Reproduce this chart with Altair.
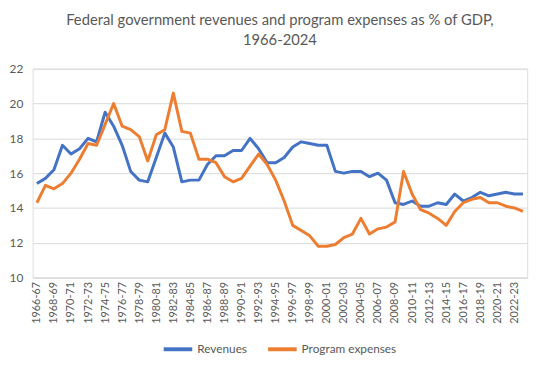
import altair as alt
import pandas as pd

years = ["1966-67", "1967-68", "1968-69", "1969-70", "1970-71", "1971-72", "1972-73", "1973-74",
         "1974-75", "1975-76", "1976-77", "1977-78", "1978-79", "1979-80", "1980-81", "1981-82",
         "1982-83", "1983-84", "1984-85", "1985-86", "1986-87", "1987-88", "1988-89", "1989-90",
         "1990-91", "1991-92", "1992-93", "1993-94", "1994-95", "1995-96", "1996-97", "1997-98",
         "1998-99", "1999-00", "2000-01", "2001-02", "2002-03", "2003-04", "2004-05", "2005-06",
         "2006-07", "2007-08", "2008-09", "2009-10", "2010-11", "2011-12", "2012-13", "2013-14",
         "2014-15", "2015-16", "2016-17", "2017-18", "2018-19", "2019-20", "2020-21", "2021-22",
         "2022-23", "2023-24"]

revenues = [15.4, 15.7, 16.2, 17.6, 17.1, 17.4, 18.0, 17.8,
            19.5, 18.7, 17.6, 16.1, 15.6, 15.5, 16.9, 18.3,
            17.5, 15.5, 15.6, 15.6, 16.5, 17.0, 17.0, 17.3,
            17.3, 18.0, 17.4, 16.6, 16.6, 16.9, 17.5, 17.8,
            17.7, 17.6, 17.6, 16.1, 16.0, 16.1, 16.1, 15.8,
            16.0, 15.6, 14.3, 14.2, 14.4, 14.1, 14.1, 14.3,
            14.2, 14.8, 14.4, 14.6, 14.9, 14.7, 14.8, 14.9,
            14.8, 14.8]

program_expenses = [14.3, 15.3, 15.1, 15.4, 16.0, 16.8, 17.7, 17.6,
                    18.8, 20.0, 18.7, 18.5, 18.1, 16.7, 18.2, 18.5,
                    20.6, 18.4, 18.3, 16.8, 16.8, 16.6, 15.8, 15.5,
                    15.7, 16.4, 17.1, 16.5, 15.6, 14.4, 13.0, 12.7,
                    12.4, 11.8, 11.8, 11.9, 12.3, 12.5, 13.4, 12.5,
                    12.8, 12.9, 13.2, 16.1, 14.8, 13.9, 13.7, 13.4,
                    13.0, 13.8, 14.3, 14.5, 14.6, 14.3, 14.3, 14.1,
                    14.0, 13.8]

series_names = ["Revenues", "Program expenses"]
series_colors = ["#4472C4", "#ED7D31"]
y_ticks = [10, 12, 14, 16, 18, 20, 22]
title_lines = ["Federal government revenues and program expenses as % of GDP,", "1966-2024"]

rows = []
for name, vals in zip(series_names, [revenues, program_expenses]):
    for i, (yr, v) in enumerate(zip(years, vals)):
        rows.append({"year": yr, "value": v, "series": name, "order": i})
df = pd.DataFrame(rows)

FONT = "Lato"
GREY = "#595959"

chart = alt.Chart(df).mark_line(strokeWidth=3, strokeJoin="round").encode(
    x=alt.X("year:O", sort=years, title=None,
            scale=alt.Scale(padding=0.5),
            axis=alt.Axis(values=years[::2], labelAngle=270, ticks=False,
                          domainColor="#d9d9d9", labelColor=GREY, labelFontSize=11,
                          labelFont=FONT, labelPadding=4)),
    y=alt.Y("value:Q", title=None,
            scale=alt.Scale(domain=[10, 22], nice=False, zero=False),
            axis=alt.Axis(values=y_ticks, ticks=False, domain=False, gridColor="#d9d9d9",
                          labelColor=GREY, labelFontSize=12, labelFont=FONT, labelPadding=10)),
    color=alt.Color("series:N", scale=alt.Scale(domain=series_names, range=series_colors),
                    legend=alt.Legend(title=None, orient="none", legendX=131, legendY=268,
                                      direction="horizontal", symbolType="stroke",
                                      symbolSize=841, symbolStrokeWidth=4, labelFontSize=12,
                                      labelFont=FONT, labelColor=GREY, columnPadding=13,
                                      labelOffset=3)),
    order="order:Q",
).properties(
    width=502,
    height=212,
    padding={"left": 25, "top": 59, "right": 15, "bottom": 80},
    autosize=alt.AutoSizeParams(type="none"),
    title=alt.TitleParams(text=title_lines, font=FONT, fontSize=15, fontWeight="normal",
                          color=GREY, anchor="middle", lineHeight=20, offset=15),
).configure_view(stroke=None).configure(background="white")

chart.save("out.html", embed_options={"renderer": "svg", "actions": False})
